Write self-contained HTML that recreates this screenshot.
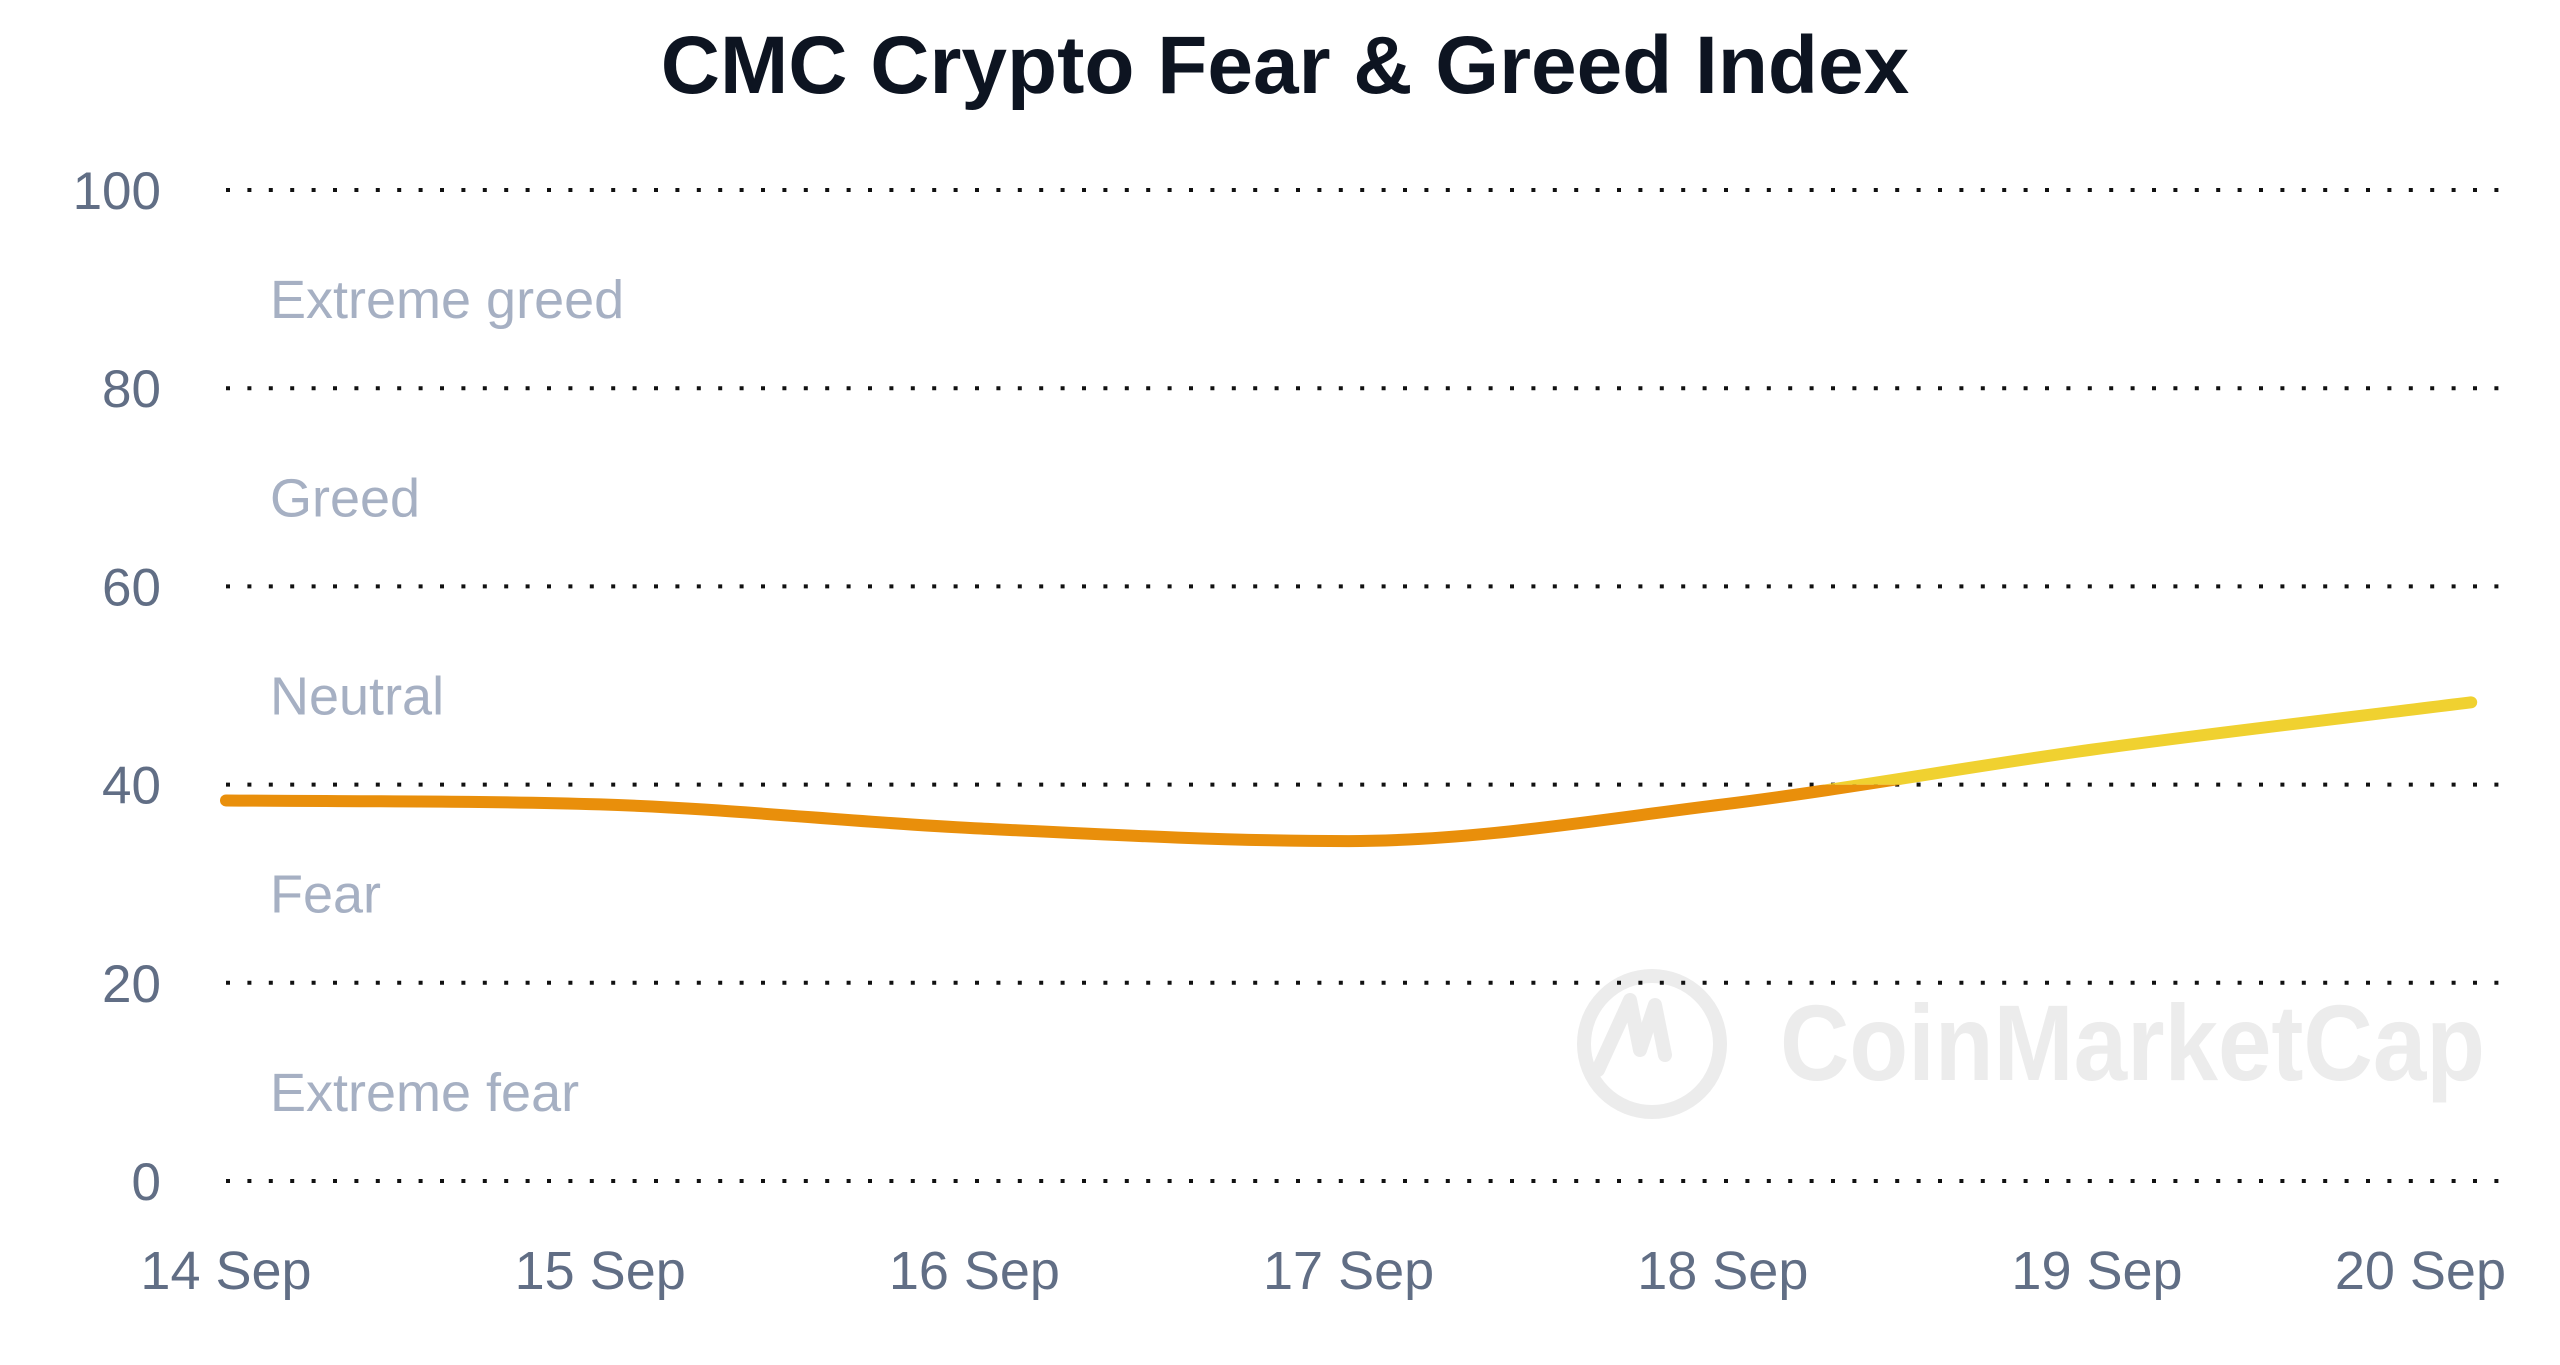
<!DOCTYPE html>
<html><head><meta charset="utf-8"><style>
html,body{margin:0;padding:0;background:#fff;width:2560px;height:1365px;overflow:hidden}
svg{display:block}
text{font-family:"Liberation Sans",Arial,sans-serif}
</style></head><body>
<svg id="chart" width="2560" height="1365" viewBox="0 0 2560 1365" xmlns="http://www.w3.org/2000/svg">
<text x="1285" y="93" text-anchor="middle" font-size="82" font-weight="bold" fill="#0d1421">CMC Crypto Fear &amp; Greed Index</text>
<g>
<circle cx="1652" cy="1044" r="68" fill="none" stroke="#ececec" stroke-width="14"/>
<path d="M1598 1070 L1630 1000 L1640 1050 L1655 1005 L1665 1055" fill="none" stroke="#ececec" stroke-width="14" stroke-linecap="round" stroke-linejoin="round"/>
<text x="1780" y="1080" font-size="108" font-weight="bold" fill="#ececec" textLength="705" lengthAdjust="spacingAndGlyphs">CoinMarketCap</text>
</g>
<g id="grid"></g>
<g id="zones"></g>
<g id="ylabels"></g>
<g id="xlabels"></g>
<defs>
<clipPath id="clipAbove"><rect id="ca" x="0" y="0" width="2560" height="0"/></clipPath>
<clipPath id="clipBelow"><rect id="cb" x="0" y="0" width="2560" height="1365"/></clipPath>
</defs>
<g id="lines"></g>
</svg>
<script>
const dates = ["14 Sep","15 Sep","16 Sep","17 Sep","18 Sep","19 Sep","20 Sep"];
const values = [38.4, 38.0, 35.6, 34.3, 38.0, 43.6, 48.3];
const yTicks = [0, 20, 40, 60, 80, 100];
const zoneNames = ["Extreme fear","Fear","Neutral","Greed","Extreme greed"];
const threshold = 40;

const NS = "http://www.w3.org/2000/svg";
const x = i => 226 + i * 374.2;
const y = v => 1181 - v * 9.91;
function mk(tag, attrs, parent){const e=document.createElementNS(NS,tag);for(const k in attrs)e.setAttribute(k,attrs[k]);parent.appendChild(e);return e;}

const grid = document.getElementById('grid');
const yl = document.getElementById('ylabels');
yTicks.forEach(t=>{
  const l = mk('line',{x1:226,x2:2502,y1:y(t),y2:y(t),stroke:'#111','stroke-width':4,'stroke-dasharray':'4 17.4'},grid);
  
  
  const tx = mk('text',{x:161,y:y(t)+19,'text-anchor':'end','font-size':53,fill:'#616e85'},yl);
  tx.textContent = t;
  
  
});
const zg = document.getElementById('zones');
zoneNames.forEach((n,i)=>{
  const tx = mk('text',{x:270,y:y(i*20+10)+29,'font-size':54,fill:'#a6b0c3'},zg);
  tx.textContent = n;
  
  
});
const xg = document.getElementById('xlabels');
dates.forEach((d,i)=>{
  const last = i===dates.length-1;
  const tx = mk('text',{x:last?2506:x(i),y:1289,'text-anchor':last?'end':'middle','font-size':54,fill:'#616e85'},xg);
  tx.textContent = d;
  
  
});

const px = values.map((v,i)=>x(i)), py = values.map(v=>y(v));
const n = px.length, m = [], dk = [];
for(let i=0;i<n-1;i++) dk.push((py[i+1]-py[i])/(px[i+1]-px[i]));
m[0]=dk[0]; m[n-1]=dk[n-2];
for(let i=1;i<n-1;i++){ m[i] = (dk[i-1]*dk[i]<=0)?0:(dk[i-1]+dk[i])/2; }
for(let i=0;i<n-1;i++){ if(dk[i]===0){m[i]=m[i+1]=0;continue;} const a=m[i]/dk[i], b=m[i+1]/dk[i], s=a*a+b*b; if(s>9){const t=3/Math.sqrt(s); m[i]=t*a*dk[i]; m[i+1]=t*b*dk[i];} }
let d = `M${px[0]},${py[0]}`;
for(let i=0;i<n-1;i++){ const h=(px[i+1]-px[i])/3; d+=` C${px[i]+h},${py[i]+m[i]*h} ${px[i+1]-h},${py[i+1]-m[i+1]*h} ${px[i+1]},${py[i+1]}`; }
document.getElementById('ca').setAttribute('height', y(threshold));
document.getElementById('cb').setAttribute('y', y(threshold));
const lg = document.getElementById('lines');
const p1 = mk('path',{d:d,fill:'none',stroke:'#e98f0b','stroke-width':12,'stroke-linecap':'round','clip-path':'url(#clipBelow)'},lg);


const p2 = mk('path',{d:d,fill:'none',stroke:'#f0d130','stroke-width':12,'stroke-linecap':'round','clip-path':'url(#clipAbove)'},lg);


</script>
</body></html>
